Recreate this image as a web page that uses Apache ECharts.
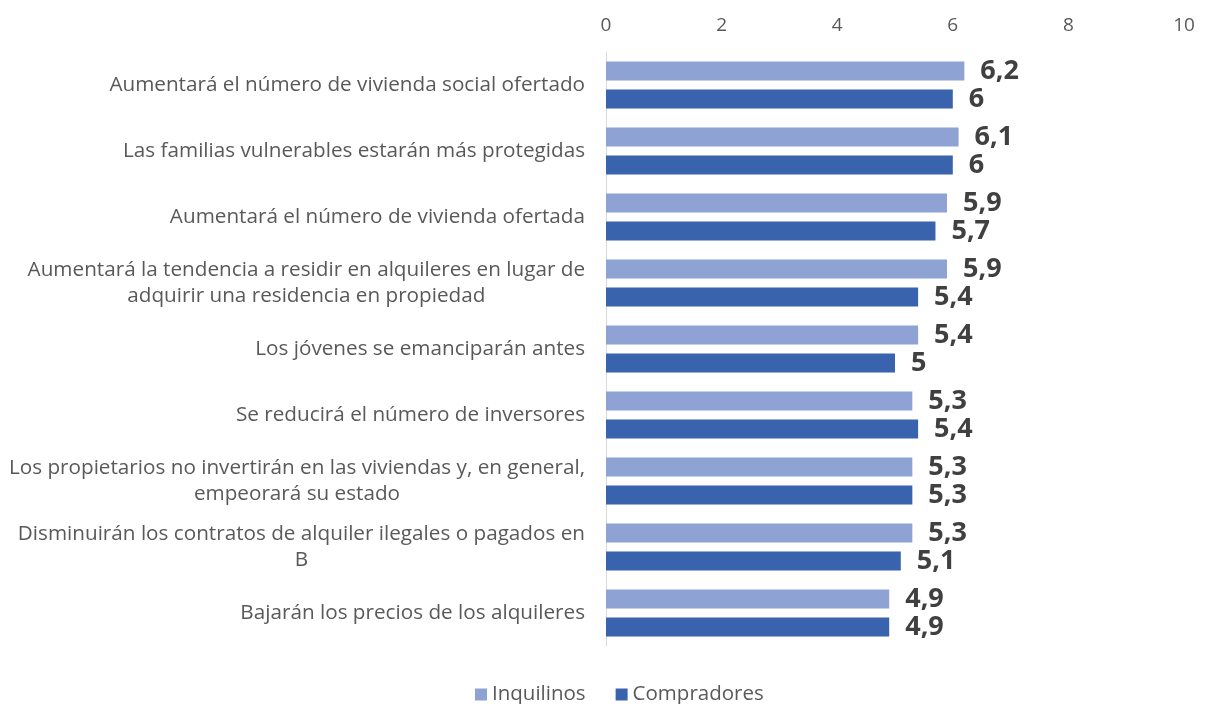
<!DOCTYPE html>
<html>
<head>
<meta charset="utf-8">
<script src="https://cdn.jsdelivr.net/npm/echarts@6/dist/echarts.min.js"></script>
<style>
html,body{margin:0;padding:0;background:#fff;}
#chart{width:1205px;height:704px;}
</style>
</head>
<body>
<div id="chart"></div>
<script>
const categories = [
  "Aumentará el número de vivienda social ofertado",
  "Las familias vulnerables estarán más protegidas",
  "Aumentará el número de vivienda ofertada",
  "Aumentará la tendencia a residir en alquileres en lugar de\nadquirir una residencia en propiedad",
  "Los jóvenes se emanciparán antes",
  "Se reducirá el número de inversores",
  "Los propietarios no invertirán en las viviendas y, en general,\nempeorará su estado",
  "Disminuirán los contratos de alquiler ilegales o pagados en\nB",
  "Bajarán los precios de los alquileres"
];
const inquilinos = [6.2, 6.1, 5.9, 5.9, 5.4, 5.3, 5.3, 5.3, 4.9];
const compradores = [6, 6, 5.7, 5.4, 5, 5.4, 5.3, 5.1, 4.9];
const seriesNames = ["Inquilinos", "Compradores"];
const axisMin = 0, axisMax = 10, axisInterval = 2;

const FONT = "'Open Sans', sans-serif";
const chart = echarts.init(document.getElementById('chart'));
const fmtVal = p => String(p.value).replace('.', ',');
const labelStyle = {
  show: true, position: 'right', distance: 16,
  formatter: fmtVal, fontFamily: FONT, fontWeight: 'bold', fontSize: 27, color: '#404040'
};
chart.setOption({
  animation: false,
  backgroundColor: '#ffffff',
  grid: { left: 606, right: 21, top: 52, bottom: 58, containLabel: false },
  legend: {
    top: 679, left: 470, itemWidth: 12, itemHeight: 12, itemGap: 30,
    icon: 'rect',
    textStyle: { fontFamily: FONT, fontSize: 20.5, color: '#595959' },
    data: seriesNames
  },
  xAxis: {
    type: 'value', position: 'top', min: axisMin, max: axisMax, interval: axisInterval,
    axisLine: { show: false }, axisTick: { show: false }, splitLine: { show: false },
    axisLabel: { margin: 17, fontFamily: FONT, fontSize: 19, color: '#595959' }
  },
  yAxis: {
    type: 'category', inverse: true, data: categories,
    axisLine: { show: true, lineStyle: { color: '#D9D9D9', width: 1 } },
    axisTick: { show: false },
    axisLabel: {
      margin: 21, fontFamily: FONT, fontSize: 20.7, color: '#595959', lineHeight: 26,
      formatter: v => v.split('\n').map(l => '{c|' + l + '}').join('\n'),
      rich: { c: { align: 'center', fontFamily: FONT, fontSize: 20.7, color: '#595959', lineHeight: 26 } }
    }
  },
  series: [
    {
      name: seriesNames[0], type: 'bar', data: inquilinos, barWidth: 19, barGap: '47%',
      itemStyle: { color: '#8FA2D4' }, label: labelStyle
    },
    {
      name: seriesNames[1], type: 'bar', data: compradores, barWidth: 19, barGap: '47%',
      itemStyle: { color: '#3A63AD' }, label: labelStyle
    }
  ]
});
</script>
</body>
</html>
